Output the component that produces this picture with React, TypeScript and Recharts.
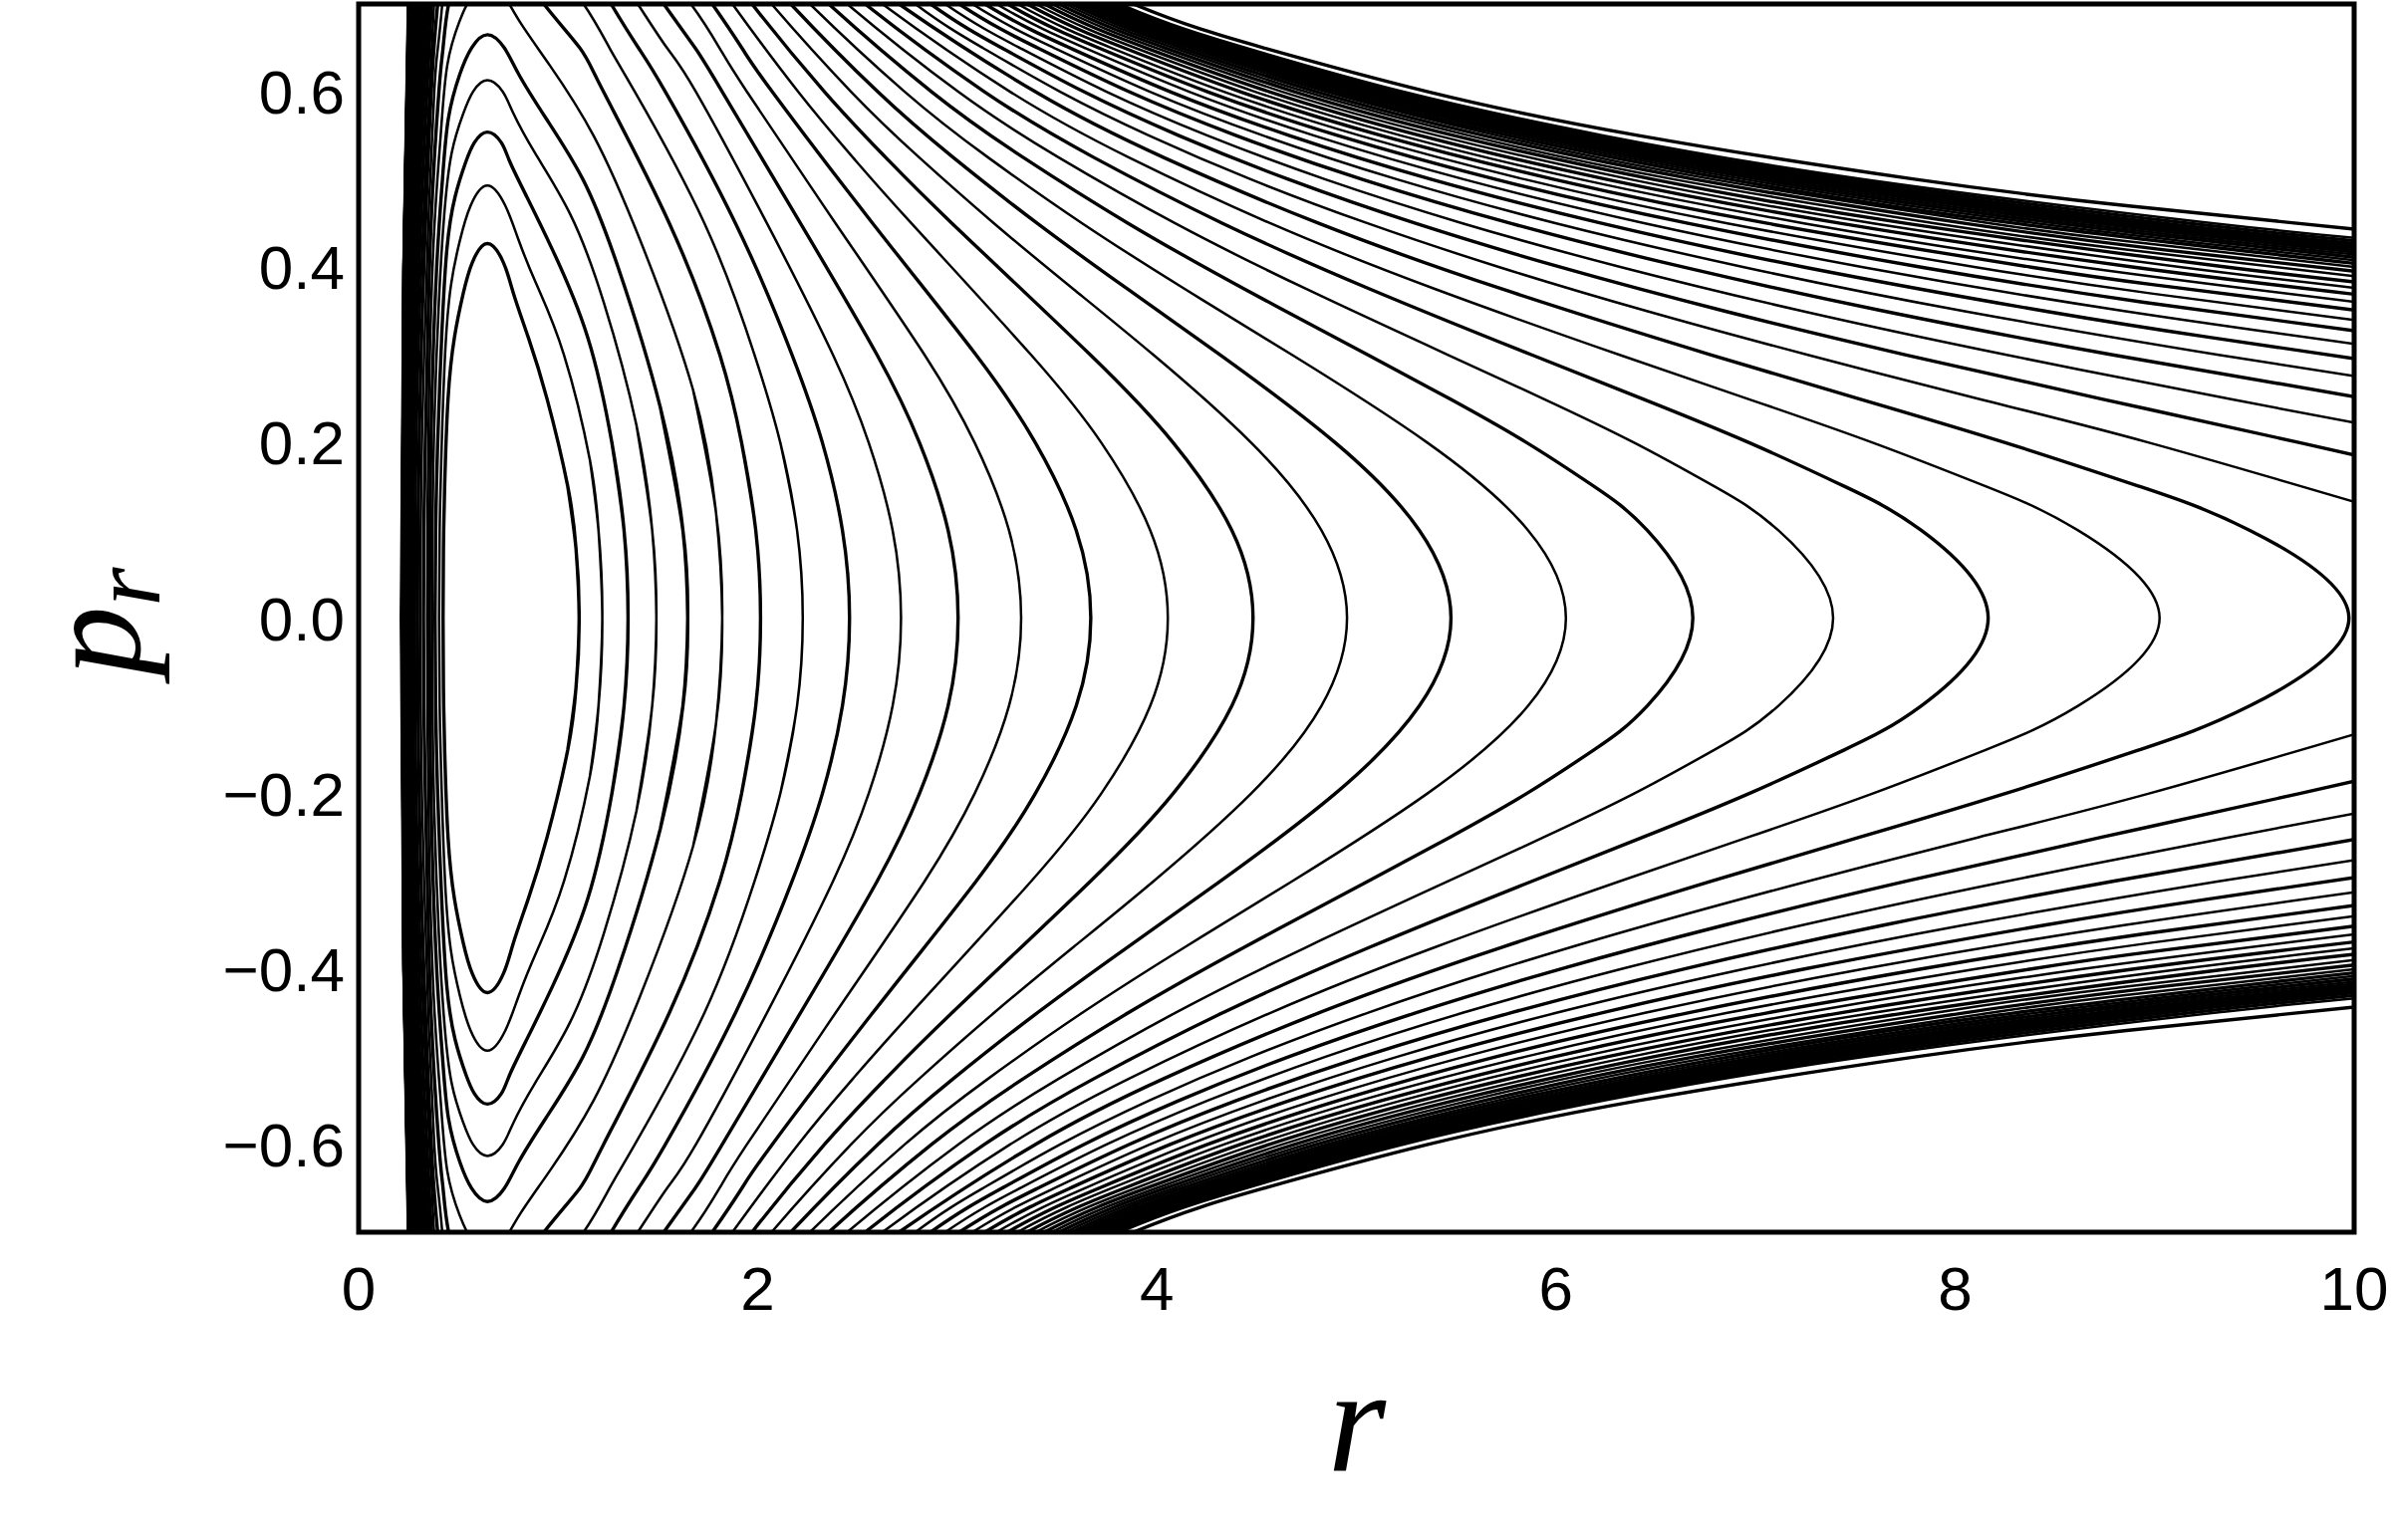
import React from 'react';
import { ComposedChart, Line, XAxis, YAxis, ReferenceArea } from 'recharts';

// ---- axis ticks ----
const xTicks = [0, 2, 4, 6, 8, 10];
const yTicks = [-0.6, -0.4, -0.2, 0, 0.2, 0.4, 0.6];

// ---- contour curves, flat [r, p, r, p, ...] ----
// closed loops (upper half): outer turning point -> top -> inner turning point
const closedLoops: number[][] = [
  [1.105, 0, 1.089, 0.08, 1.048, 0.15, 0.944, 0.25, 0.85, 0.32, 0.776, 0.37, 0.726, 0.405, 0.645, 0.427, 0.569, 0.405, 0.524, 0.37, 0.48, 0.32, 0.448, 0.25, 0.431, 0.15, 0.425, 0.08, 0.423, 0],
  [1.221, 0, 1.202, 0.1, 1.159, 0.18, 1.029, 0.3, 0.892, 0.38, 0.803, 0.43, 0.735, 0.47, 0.645, 0.493, 0.561, 0.47, 0.507, 0.43, 0.463, 0.38, 0.433, 0.3, 0.414, 0.18, 0.406, 0.1, 0.403, 0],
  [1.35, 0, 1.33, 0.1, 1.269, 0.2, 1.148, 0.32, 0.971, 0.42, 0.843, 0.48, 0.758, 0.52, 0.715, 0.542, 0.645, 0.554, 0.58, 0.542, 0.537, 0.52, 0.483, 0.48, 0.442, 0.42, 0.416, 0.32, 0.396, 0.2, 0.386, 0.1, 0.383, 0],
  [1.492, 0, 1.471, 0.1, 1.392, 0.22, 1.228, 0.36, 1.061, 0.46, 0.884, 0.53, 0.776, 0.575, 0.722, 0.6, 0.645, 0.613, 0.573, 0.6, 0.524, 0.575, 0.466, 0.53, 0.429, 0.46, 0.402, 0.36, 0.379, 0.22, 0.37, 0.1, 0.368, 0],
  [1.649, 0, 1.625, 0.1, 1.512, 0.24, 1.3, 0.4, 1.124, 0.5, 0.938, 0.57, 0.802, 0.62, 0.73, 0.65, 0.645, 0.665, 0.566, 0.65, 0.507, 0.62, 0.45, 0.57, 0.42, 0.5, 0.391, 0.4, 0.366, 0.24, 0.357, 0.1, 0.355, 0],
  [1.822, 0, 1.791, 0.12, 1.676, 0.26, 1.412, 0.43, 1.177, 0.55, 0.958, 0.63, 0.807, 0.68, 0.726, 0.71, 0.645, 0.7225, 0.569, 0.71, 0.505, 0.68, 0.444, 0.63, 0.411, 0.55, 0.376, 0.43, 0.353, 0.26, 0.345, 0.12, 0.343, 0],
  [2.014, 0, 1.99, 0.1, 1.919, 0.2, 1.81, 0.3, 1.557, 0.45, 1.227, 0.6, 1.108, 0.65, 0.928, 0.7, 0.772, 0.75, 0.645, 0.778, 0.527, 0.75, 0.451, 0.7, 0.423, 0.65, 0.402, 0.6, 0.363, 0.45, 0.344, 0.3, 0.334, 0.2, 0.327, 0.1, 0.325, 0],
  [2.2255, 0, 2.197, 0.1, 2.113, 0.2, 1.984, 0.3, 1.733, 0.45, 1.384, 0.6, 1.257, 0.65, 1.127, 0.7, 0.948, 0.75, 0.772, 0.8, 0.645, 0.827, 0.527, 0.8, 0.447, 0.75, 0.419, 0.7, 0.397, 0.65, 0.379, 0.6, 0.349, 0.45, 0.328, 0.3, 0.317, 0.2, 0.311, 0.1, 0.309, 0],
];

// bounded curves turning inside the frame: outer branch (upper half from p = 0)
const boundOuter: number[][] = [
  [2.46, 0, 2.4245, 0.1, 2.324, 0.2, 2.172, 0.3, 1.8885, 0.45, 1.537, 0.6, 1.402, 0.65, 1.265, 0.7, 1.125, 0.75, 0.932, 0.8],
  [2.718, 0, 2.676, 0.1, 2.556, 0.2, 2.377, 0.3, 2.046, 0.45, 1.69, 0.6, 1.545, 0.65, 1.399, 0.7, 1.252, 0.75, 1.102, 0.8],
  [3.004, 0, 2.954, 0.1, 2.8105, 0.2, 2.598, 0.3, 2.214, 0.45, 1.822, 0.6, 1.686, 0.65, 1.529, 0.7, 1.375, 0.75, 1.218, 0.8],
  [3.32, 0, 3.259, 0.1, 3.087, 0.2, 2.836, 0.3, 2.39, 0.45, 1.9455, 0.6, 1.808, 0.65, 1.665, 0.7, 1.4895, 0.75, 1.33, 0.8],
  [3.669, 0, 3.596, 0.1, 3.391, 0.2, 3.094, 0.3, 2.576, 0.45, 2.0725, 0.6, 1.92, 0.65, 1.772, 0.7, 1.6105, 0.75, 1.435, 0.8],
  [4.055, 0, 3.967, 0.1, 3.7215, 0.2, 3.37, 0.3, 2.77, 0.45, 2.477, 0.525, 2.2023, 0.6, 1.873, 0.7, 1.715, 0.75, 1.538, 0.8],
  [4.482, 0, 4.376, 0.1, 4.0816, 0.2, 3.667, 0.3, 2.9734, 0.45, 2.6414, 0.525, 2.3343, 0.6, 1.9712, 0.7, 1.809, 0.75, 1.6395, 0.8],
  [4.953, 0, 4.8248, 0.1, 4.4724, 0.2, 3.983, 0.3, 3.582, 0.375, 3.184, 0.45, 2.8095, 0.525, 2.4676, 0.6, 2.069, 0.7, 1.8934, 0.75, 1.7247, 0.8],
  [5.474, 0, 5.3157, 0.1, 4.894, 0.2, 4.318, 0.3, 3.8537, 0.375, 3.4005, 0.45, 2.98, 0.525, 2.6012, 0.6, 2.1653, 0.7, 1.9757, 0.75, 1.802, 0.8],
  [6.05, 0, 5.8606, 0.1, 5.3555, 0.2, 4.6777, 0.3, 4.1413, 0.375, 3.6259, 0.45, 3.1548, 0.525, 2.7365, 0.6, 2.2616, 0.7, 2.0572, 0.75, 1.8724, 0.8],
  [6.686, 0, 6.4577, 0.1, 6.1917, 0.15, 5.8532, 0.2, 5.4673, 0.25, 5.0575, 0.3, 4.4398, 0.375, 3.8562, 0.45, 3.331, 0.525, 2.8709, 0.6, 2.3559, 0.7, 2.1365, 0.75, 1.9393, 0.8],
  [7.389, 0, 7.1147, 0.1, 6.7951, 0.15, 6.3918, 0.2, 5.9369, 0.25, 5.4593, 0.3, 4.7501, 0.375, 4.0917, 0.45, 3.5085, 0.525, 3.0046, 0.6, 2.4483, 0.7, 2.2137, 0.75, 2.0042, 0.8],
  [8.166, 0, 7.831, 0.1, 7.4473, 0.15, 6.968, 0.2, 6.4334, 0.25, 5.879, 0.3, 5.0685, 0.375, 4.3293, 0.45, 3.6848, 0.525, 3.1357, 0.6, 2.5377, 0.7, 2.288, 0.75, 2.0663, 0.8],
  [9.025, 0, 8.6163, 0.1, 8.1562, 0.15, 7.5873, 0.2, 6.9604, 0.25, 6.3189, 0.3, 5.3959, 0.375, 4.5694, 0.45, 3.8604, 0.525, 3.2646, 0.6, 2.6245, 0.7, 2.3597, 0.75, 2.1257, 0.8],
  [9.974, 0, 9.4774, 0.1, 8.9258, 0.15, 8.2514, 0.2, 7.5183, 0.25, 6.778, 0.3, 5.7312, 0.375, 4.811, 0.45, 4.0344, 0.525, 3.3909, 0.6, 2.708, 0.7, 2.4283, 0.75, 2.1825, 0.8],
];

// same curves: inner branch near the wall (upper half from p = 0)
const boundInner: number[][] = [
  [0.2953, 0, 0.313, 0.3, 0.3534, 0.55, 0.3775, 0.65, 0.396, 0.7, 0.4196, 0.75, 0.4512, 0.8],
  [0.2829, 0, 0.2998, 0.3, 0.3435, 0.55, 0.3778, 0.7, 0.3982, 0.75, 0.4235, 0.8],
  [0.2712, 0, 0.2884, 0.3, 0.3308, 0.55, 0.365, 0.7, 0.3803, 0.75, 0.4035, 0.8],
  [0.2605, 0, 0.2778, 0.3, 0.319, 0.55, 0.354, 0.7, 0.3683, 0.75, 0.386, 0.8],
  [0.2531, 0, 0.268, 0.3, 0.3088, 0.55, 0.3465, 0.7, 0.374, 0.8],
  [0.2479, 0, 0.2593, 0.3, 0.2995, 0.55, 0.338, 0.7, 0.3642, 0.8],
  [0.2443, 0, 0.2531, 0.3, 0.2914, 0.55, 0.329, 0.7, 0.3558, 0.8],
  [0.2411, 0, 0.2486, 0.3, 0.284, 0.55, 0.3206, 0.7, 0.3498, 0.8],
  [0.2386, 0, 0.2456, 0.3, 0.2773, 0.55, 0.3135, 0.7, 0.3444, 0.8],
  [0.2366, 0, 0.2429, 0.3, 0.271, 0.55, 0.307, 0.7, 0.3381, 0.8],
  [0.2347, 0, 0.2405, 0.3, 0.2653, 0.55, 0.3011, 0.7, 0.3318, 0.8],
  [0.233, 0, 0.2387, 0.3, 0.2602, 0.55, 0.2959, 0.7, 0.326, 0.8],
  [0.2315, 0, 0.2371, 0.3, 0.2566, 0.55, 0.2913, 0.7, 0.3207, 0.8],
  [0.2301, 0, 0.2357, 0.3, 0.2535, 0.55, 0.2871, 0.7, 0.3164, 0.8],
  [0.2289, 0, 0.2345, 0.3, 0.2506, 0.55, 0.2833, 0.7, 0.3123, 0.8],
];

// curves leaving through the right edge: upper outer branch from the top edge down to r = 10
const openOuter: number[][] = [
  [2.2374, 0.8, 2.7895, 0.7, 3.1274, 0.65, 3.5154, 0.6, 3.9611, 0.55, 4.4724, 0.5, 5.056, 0.45, 5.7172, 0.4, 6.4554, 0.35, 7.262, 0.3, 8.1146, 0.25, 8.9718, 0.2, 10.2, 0.1192],
  [2.2884, 0.8, 2.8662, 0.7, 3.2224, 0.65, 3.6341, 0.6, 4.1104, 0.55, 4.6611, 0.5, 5.296, 0.45, 6.0227, 0.4, 6.8444, 0.35, 7.7544, 0.3, 8.7304, 0.25, 9.727, 0.2, 10.2, 0.1756],
  [2.3363, 0.8, 2.9388, 0.7, 3.3129, 0.65, 3.7479, 0.6, 4.2545, 0.55, 4.8452, 0.5, 5.5323, 0.45, 6.3274, 0.4, 7.2343, 0.35, 8.2586, 0.3, 9.3709, 0.25, 10.2, 0.2141],
  [2.3826, 0.8, 3.0097, 0.7, 3.4019, 0.65, 3.8604, 0.6, 4.3981, 0.55, 5.03, 0.5, 5.772, 0.45, 6.6397, 0.4, 7.6422, 0.35, 8.7905, 0.3, 10.2, 0.2446],
  [2.4252, 0.8, 3.0753, 0.7, 3.4845, 0.65, 3.9654, 0.6, 4.5333, 0.55, 5.2053, 0.5, 6.0015, 0.45, 6.9425, 0.4, 8.0426, 0.35, 9.3207, 0.3, 10.2, 0.2687],
  [2.4654, 0.8, 3.1379, 0.7, 3.5638, 0.65, 4.067, 0.6, 4.6646, 0.55, 5.3772, 0.5, 6.2287, 0.45, 7.2454, 0.4, 8.4486, 0.35, 9.2757, 0.32, 10.2, 0.2892],
  [2.5025, 0.8, 3.196, 0.7, 3.6376, 0.65, 4.1621, 0.6, 4.7885, 0.55, 5.5405, 0.5, 6.4465, 0.45, 7.5391, 0.4, 8.8474, 0.35, 10.2, 0.3063],
  [2.5376, 0.8, 3.2513, 0.7, 3.7084, 0.65, 4.2536, 0.6, 4.9084, 0.55, 5.6997, 0.5, 6.6608, 0.45, 7.831, 0.4, 8.9467, 0.36, 10.2, 0.3213],
  [2.569, 0.8, 3.3011, 0.7, 3.7722, 0.65, 4.3365, 0.6, 5.0177, 0.55, 5.8459, 0.5, 6.8593, 0.45, 8.1043, 0.4, 8.9844, 0.37, 10.2, 0.3338],
  [2.5997, 0.8, 3.3497, 0.7, 3.8349, 0.65, 4.4183, 0.6, 5.1261, 0.55, 5.9919, 0.5, 7.059, 0.45, 8.3819, 0.4, 8.9971, 0.38, 10.2, 0.3453],
  [2.6268, 0.8, 3.3933, 0.7, 3.8912, 0.65, 4.4921, 0.6, 5.2244, 0.55, 6.125, 0.5, 7.2426, 0.45, 8.6396, 0.4, 10.2, 0.355],
  [2.6528, 0.8, 3.4353, 0.7, 3.9456, 0.65, 4.5637, 0.6, 5.3202, 0.55, 6.2557, 0.5, 7.424, 0.45, 8.8968, 0.4, 10.2, 0.3639],
  [2.676, 0.8, 3.4728, 0.7, 3.9944, 0.65, 4.6282, 0.6, 5.4069, 0.55, 6.3745, 0.5, 7.5902, 0.45, 9.1344, 0.4, 10.2, 0.3715],
  [2.6978, 0.8, 3.5083, 0.7, 4.0407, 0.65, 4.6896, 0.6, 5.4899, 0.55, 6.4888, 0.5, 7.7512, 0.45, 9.3663, 0.4, 10.2, 0.3784],
  [2.7174, 0.8, 3.5403, 0.7, 4.0825, 0.65, 4.7453, 0.6, 5.5653, 0.55, 6.5933, 0.5, 7.8992, 0.45, 8.8557, 0.42, 10.2, 0.3845],
  [2.7364, 0.8, 3.5715, 0.7, 4.1234, 0.65, 4.7997, 0.6, 5.6394, 0.55, 6.6963, 0.5, 8.046, 0.45, 9.0395, 0.42, 10.2, 0.3902],
  [2.753, 0.8, 3.5988, 0.7, 4.1593, 0.65, 4.8477, 0.6, 5.705, 0.55, 6.7878, 0.5, 8.1772, 0.45, 8.8433, 0.43, 10.2, 0.395],
  [2.7681, 0.8, 3.6235, 0.7, 4.1919, 0.65, 4.8914, 0.6, 5.7648, 0.55, 6.8717, 0.5, 8.2982, 0.45, 10.2, 0.3993],
  [2.7814, 0.8, 3.6458, 0.7, 4.221, 0.65, 4.9306, 0.6, 5.8186, 0.55, 6.9476, 0.5, 8.4078, 0.45, 10.2, 0.403],
  [2.794, 0.8, 3.6667, 0.7, 4.2486, 0.65, 4.9678, 0.6, 5.8697, 0.55, 7.0197, 0.5, 8.5127, 0.45, 10.2, 0.4065],
  [2.8057, 0.8, 3.6862, 0.7, 4.2746, 0.65, 5.0027, 0.6, 5.918, 0.55, 7.0881, 0.5, 8.6124, 0.45, 10.2, 0.4097],
  [2.8167, 0.8, 3.7045, 0.7, 4.2987, 0.65, 5.0355, 0.6, 5.9633, 0.55, 7.1523, 0.5, 8.7066, 0.45, 10.2, 0.4126],
  [2.8259, 0.8, 3.7198, 0.7, 4.3191, 0.65, 5.063, 0.6, 6.0015, 0.55, 7.2068, 0.5, 8.7865, 0.45, 10.2, 0.415],
  [2.8352, 0.8, 3.7354, 0.7, 4.3396, 0.65, 5.0909, 0.6, 6.0402, 0.55, 7.262, 0.5, 8.8679, 0.45, 10.2, 0.4174],
  [2.8435, 0.8, 3.7493, 0.7, 4.3583, 0.65, 5.1162, 0.6, 6.0755, 0.55, 7.3125, 0.5, 8.9425, 0.45, 10.2, 0.4195],
  [2.851, 0.8, 3.7619, 0.7, 4.375, 0.65, 5.139, 0.6, 6.1071, 0.55, 7.3579, 0.5, 9.0098, 0.45, 10.2, 0.4215],
  [2.8576, 0.8, 3.773, 0.7, 4.3897, 0.65, 5.159, 0.6, 6.135, 0.55, 7.398, 0.5, 9.0694, 0.45, 10.2, 0.4231],
  [2.8689, 0.8, 3.792, 0.7, 4.4152, 0.65, 5.1936, 0.6, 6.1836, 0.55, 7.4679, 0.5, 9.1737, 0.45, 10.2, 0.4259],
  [2.8823, 0.8, 3.8146, 0.7, 4.4452, 0.65, 5.2347, 0.6, 6.2411, 0.55, 7.551, 0.5, 9.2982, 0.45, 10.2, 0.4292],
  [2.922, 0.8, 3.8819, 0.7, 4.5355, 0.65, 5.3587, 0.6, 6.4158, 0.55, 7.8053, 0.5, 8.8597, 0.47, 10.2, 0.4387],
];

// same curves: inner branch near the wall (upper half from p = 0)
const openInner: number[][] = [
  [0.2277, 0, 0.2377, 0.4, 0.2798, 0.7, 0.3086, 0.8],
  [0.2267, 0, 0.2367, 0.4, 0.2766, 0.7, 0.3053, 0.8],
  [0.2257, 0, 0.2357, 0.4, 0.2737, 0.7, 0.3023, 0.8],
  [0.2248, 0, 0.2348, 0.4, 0.271, 0.7, 0.2995, 0.8],
  [0.2241, 0, 0.2341, 0.4, 0.2687, 0.7, 0.2972, 0.8],
  [0.2234, 0, 0.2334, 0.4, 0.2665, 0.7, 0.2951, 0.8],
  [0.2227, 0, 0.2327, 0.4, 0.2645, 0.7, 0.2932, 0.8],
  [0.2221, 0, 0.2321, 0.4, 0.2627, 0.7, 0.2913, 0.8],
  [0.2216, 0, 0.2316, 0.4, 0.2611, 0.7, 0.2897, 0.8],
  [0.2211, 0, 0.2311, 0.4, 0.2597, 0.7, 0.2883, 0.8],
  [0.2207, 0, 0.2307, 0.4, 0.2587, 0.7, 0.287, 0.8],
  [0.2203, 0, 0.2303, 0.4, 0.2578, 0.7, 0.2858, 0.8],
  [0.2199, 0, 0.2299, 0.4, 0.257, 0.7, 0.2847, 0.8],
  [0.2196, 0, 0.2296, 0.4, 0.2563, 0.7, 0.2838, 0.8],
  [0.2193, 0, 0.2293, 0.4, 0.2556, 0.7, 0.2829, 0.8],
  [0.219, 0, 0.2291, 0.4, 0.255, 0.7, 0.2821, 0.8],
  [0.2188, 0, 0.2288, 0.4, 0.2545, 0.7, 0.2814, 0.8],
  [0.2185, 0, 0.2286, 0.4, 0.254, 0.7, 0.2807, 0.8],
  [0.2183, 0, 0.2284, 0.4, 0.2535, 0.7, 0.2802, 0.8],
  [0.2181, 0, 0.2282, 0.4, 0.2531, 0.7, 0.2796, 0.8],
  [0.218, 0, 0.228, 0.4, 0.2527, 0.7, 0.2791, 0.8],
  [0.2178, 0, 0.2279, 0.4, 0.2524, 0.7, 0.2786, 0.8],
  [0.2177, 0, 0.2278, 0.4, 0.2521, 0.7, 0.2782, 0.8],
  [0.2175, 0, 0.2276, 0.4, 0.2518, 0.7, 0.2778, 0.8],
  [0.2174, 0, 0.2275, 0.4, 0.2516, 0.7, 0.2775, 0.8],
  [0.2173, 0, 0.2274, 0.4, 0.2514, 0.7, 0.2772, 0.8],
  [0.2172, 0, 0.2274, 0.4, 0.2512, 0.7, 0.277, 0.8],
  [0.2171, 0, 0.2273, 0.4, 0.2509, 0.7, 0.2765, 0.8],
  [0.2165, 0, 0.227, 0.4, 0.2504, 0.7, 0.276, 0.8],
  [0.214, 0, 0.2265, 0.4, 0.2496, 0.7, 0.2745, 0.8],
];

// ---- helpers that turn the tables into line data ----
type Pt = { r: number; p: number };

function toPts(a: number[]): Pt[] {
  const out: Pt[] = [];
  for (let i = 0; i + 1 < a.length; i += 2) out.push({ r: a[i], p: a[i + 1] });
  return out;
}
function negate(pts: Pt[]): Pt[] {
  return pts.map((q) => ({ r: q.r, p: -q.p }));
}
// mirror an upper half that starts at p = 0 into a full branch from bottom to top
function throughAxis(up: Pt[]): Pt[] {
  return [...negate(up.slice(1)).reverse(), ...up];
}
// build a closed loop (with a small overlap so the seam is smooth)
function closedLoop(up: Pt[]): Pt[] {
  const low = negate(up).reverse();
  const full = [...up, ...low.slice(1)];
  const n = full.length;
  return [full[n - 3], full[n - 2], ...full, full[1], full[2]];
}

const widthOf = (i: number) => (i % 2 === 0 ? 3.4 : 2.5);

type Series = { key: string; pts: Pt[]; w: number };
const series: Series[] = [];
closedLoops.forEach((a, i) => series.push({ key: `loop${i}`, pts: closedLoop(toPts(a)), w: widthOf(i) }));
boundOuter.forEach((a, i) => series.push({ key: `bo${i}`, pts: throughAxis(toPts(a)), w: widthOf(i + 8) }));
boundInner.forEach((a, i) => series.push({ key: `bi${i}`, pts: throughAxis(toPts(a)), w: widthOf(i + 8) }));
openOuter.forEach((a, i) => {
  const up = toPts(a);
  const w = i === openOuter.length - 1 ? 3.4 : widthOf(i + 23);
  series.push({ key: `ou${i}`, pts: up, w });
  series.push({ key: `ol${i}`, pts: negate(up), w });
});
openInner.forEach((a, i) => series.push({ key: `oi${i}`, pts: throughAxis(toPts(a)), w: widthOf(i + 23) }));

const TICK_FONT = '"Liberation Sans", Arial, Helvetica, sans-serif';
const LABEL_FONT = '"Liberation Serif", "Times New Roman", Times, serif';

const fmtY = (v: number) => (Math.abs(v) < 1e-9 ? '0.0' : (v < 0 ? '\u2212' : '') + Math.abs(v).toFixed(1));
const fmtX = (v: number) => String(v);

export default function App() {
  return (
    <div style={{ position: 'absolute', left: 0, top: 0, width: 2400, height: 1546, background: '#fff' }}>
      <ComposedChart width={2400} height={1546} margin={{ top: 4, right: 37, bottom: 0, left: 0 }}>
        <XAxis
          type="number"
          dataKey="r"
          domain={[0, 10]}
          ticks={xTicks}
          interval={0}
          allowDataOverflow
          height={309}
          axisLine={false}
          tickLine={false}
          tickSize={6}
          tickMargin={28}
          tickFormatter={fmtX}
          tick={{ fill: '#000', fontSize: 62, fontFamily: TICK_FONT }}
        />
        <YAxis
          type="number"
          dataKey="p"
          domain={[-0.7, 0.7]}
          ticks={yTicks}
          interval={0}
          allowDataOverflow
          width={360}
          axisLine={false}
          tickLine={false}
          tickSize={6}
          tickMargin={8}
          tickFormatter={fmtY}
          tick={{ fill: '#000', fontSize: 62, fontFamily: TICK_FONT }}
        />
        {series.map((s) => (
          <Line
            key={s.key}
            data={s.pts}
            dataKey="p"
            type="natural"
            dot={false}
            activeDot={false}
            stroke="#000"
            strokeWidth={s.w}
            strokeLinejoin="round"
            isAnimationActive={false}
            legendType="none"
          />
        ))}
        <ReferenceArea x1={0} x2={10} y1={-0.7} y2={0.7} fill="none" stroke="#000" strokeWidth={5} ifOverflow="visible" />
      </ComposedChart>
      <svg width={2400} height={1546} style={{ position: 'absolute', left: 0, top: 0, pointerEvents: 'none' }}>
        <text x={1362} y={1477} textAnchor="middle" fontFamily={LABEL_FONT} fontStyle="italic" fontSize={150} fill="#000">
          r
        </text>
        <text
          x={140}
          y={624}
          transform="rotate(-90 140 624)"
          textAnchor="middle"
          fontFamily={LABEL_FONT}
          fontStyle="italic"
          fontSize={140}
          fill="#000"
        >
          p
          <tspan fontSize={100} dy={20}>
            r
          </tspan>
        </text>
      </svg>
    </div>
  );
}
